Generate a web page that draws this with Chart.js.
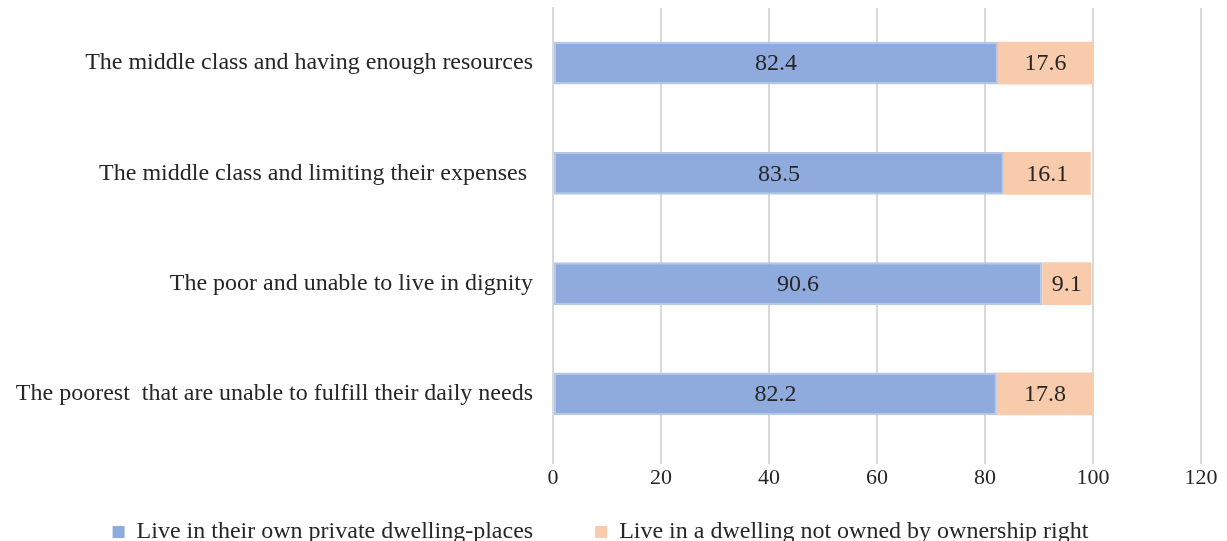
<!DOCTYPE html>
<html>
<head>
<meta charset="utf-8">
<script src="https://cdn.jsdelivr.net/npm/chart.js@4/dist/chart.umd.min.js"></script>
<style>
  html, body { margin: 0; padding: 0; background: #fff; }
  #wrap { width: 1227px; height: 541px; overflow: hidden; }
  #box { width: 1227px; height: 554px; position: relative; }
</style>
</head>
<body>
<div id="wrap"><div id="box"><canvas id="chart"></canvas></div></div>
<script>
// categories, top to bottom
const categories = [
  "The middle class and having enough resources",
  "The middle class and limiting their expenses ",
  "The poor and unable to live in dignity",
  "The poorest  that are unable to fulfill their daily needs"
];
const ownDwelling = [82.4, 83.5, 90.6, 82.2];
const notOwned = [17.6, 16.1, 9.1, 17.8];
const seriesNames = [
  "Live in their own private dwelling-places",
  "Live in a dwelling not owned by ownership right"
];
const xTicks = [0, 20, 40, 60, 80, 100, 120];

const serif = "'Liberation Serif', 'Times New Roman', serif";

// draws the value in the middle of each bar segment
const barLabels = {
  id: "barLabels",
  afterDatasetsDraw(chart) {
    const ctx = chart.ctx;
    ctx.save();
    ctx.font = "24px " + serif;
    ctx.fillStyle = "#262626";
    ctx.textAlign = "center";
    ctx.textBaseline = "middle";
    chart.data.datasets.forEach((ds, i) => {
      const meta = chart.getDatasetMeta(i);
      meta.data.forEach((bar, j) => {
        const p = bar.getCenterPoint();
        ctx.fillText(ds.data[j].toFixed(1), p.x, p.y + 1);
      });
    });
    ctx.restore();
  }
};

new Chart(document.getElementById("chart"), {
  type: "bar",
  data: {
    labels: categories,
    datasets: [
      {
        label: seriesNames[0],
        data: ownDwelling,
        backgroundColor: "#8FAADC",
        borderColor: "#B4C7E7",
        borderWidth: 2,
        borderSkipped: false
      },
      {
        label: seriesNames[1],
        data: notOwned,
        backgroundColor: "#F8CBAD",
        borderColor: "#F8CBAD",
        borderWidth: 0,
        borderSkipped: false
      }
    ]
  },
  options: {
    indexAxis: "y",
    responsive: true,
    maintainAspectRatio: false,
    animation: false,
    barPercentage: 1,
    categoryPercentage: 0.39,
    layout: { padding: { left: 0, right: 26, top: 8, bottom: 0 } },
    scales: {
      x: {
        stacked: true,
        min: 0,
        max: 120,
        afterBuildTicks: (axis) => {
          axis.ticks = xTicks.map((v) => ({ value: v }));
        },
        afterFit: (scale) => {
          scale.height = 63;
        },
        grid: { color: "#D9D9D9", lineWidth: 2, tickLength: 15, tickColor: "#D9D9D9" },
        border: { display: false },
        ticks: { color: "#262626", font: { family: serif, size: 22 }, padding: 1 }
      },
      y: {
        stacked: true,
        afterFit: (scale) => {
          scale.width = 553;
          scale.paddingTop = 0;
          scale.paddingBottom = 0;
        },
        grid: { display: false },
        border: { display: true, color: "#D9D9D9", width: 2 },
        ticks: { color: "#262626", font: { family: serif, size: 24 }, padding: 12 }
      }
    },
    plugins: {
      legend: {
        position: "bottom",
        labels: {
          color: "#262626",
          font: { family: serif, size: 24 },
          boxWidth: 12,
          boxHeight: 12,
          padding: 8,
          generateLabels: (chart) =>
            chart.data.datasets.map((ds, i) => ({
              // trailing spaces keep the wide gap between the two entries
              text: i === 0 ? ds.label + "\u00a0".repeat(9) : ds.label,
              fillStyle: ds.backgroundColor,
              strokeStyle: ds.backgroundColor,
              lineWidth: 0,
              fontColor: "#262626",
              datasetIndex: i
            }))
        }
      },
      tooltip: { enabled: false }
    }
  },
  plugins: [barLabels]
});
</script>
</body>
</html>
